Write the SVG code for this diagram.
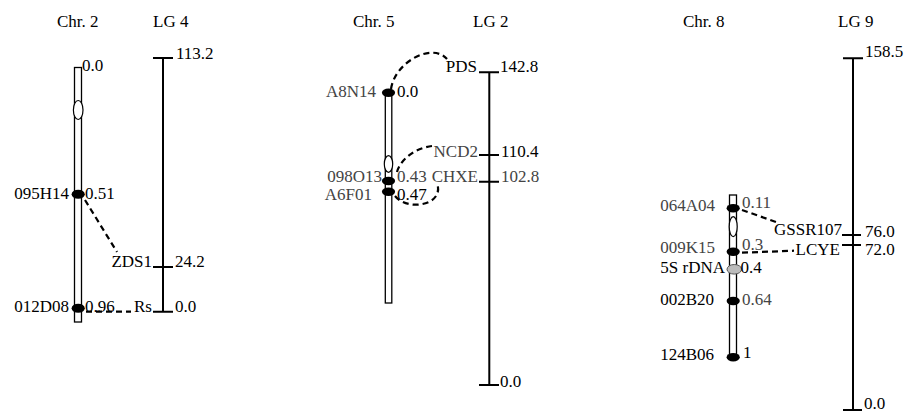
<svg xmlns="http://www.w3.org/2000/svg" width="906" height="414" viewBox="0 0 906 414">
<style>
text{font-family:"Liberation Serif","Times New Roman",serif;font-size:17px;fill:#000}
.g{fill:#444}
.e{text-anchor:end}
.chr{fill:#fff;stroke:#000;stroke-width:1.3}
.cen{fill:#fff;stroke:#000;stroke-width:1.2}
.dot{fill:#000}
.lg{stroke:#000;stroke-width:2;fill:none}
.dash{stroke:#000;stroke-width:2.2;stroke-dasharray:6,4;fill:none}
</style>
<rect width="906" height="414" fill="#fff"/>
<g id="headers">
<text x="57" y="27">Chr. 2</text>
<text x="153" y="27">LG 4</text>
<text x="353" y="27">Chr. 5</text>
<text x="473" y="27">LG 2</text>
<text x="683" y="27">Chr. 8</text>
<text x="838" y="27">LG 9</text>
</g>
<g id="chr2">
<rect class="chr" x="74.5" y="67.5" width="7" height="254.5"/>
<ellipse class="cen" cx="78.2" cy="110" rx="4.8" ry="9.5"/>
<text x="82" y="71">0.0</text>
<ellipse class="dot" cx="78.2" cy="194.3" rx="6.6" ry="4.5"/>
<text class="e" x="69" y="199">095H14</text>
<text x="85" y="199">0.51</text>
<ellipse class="dot" cx="78.2" cy="308.3" rx="6.6" ry="4.5"/>
<text class="e" x="69" y="312">012D08</text>
<text x="85" y="312">0.96</text>
</g>
<g id="lg4">
<path class="lg" d="M163,58V312M153,58H173M153,267H173M153,311.7H173"/>
<text x="176" y="59">113.2</text>
<text class="e" x="152" y="267">ZDS1</text>
<text x="175" y="267">24.2</text>
<text class="e" x="152" y="312">Rs</text>
<text x="175" y="312">0.0</text>
</g>
<g id="chr5">
<rect class="chr" x="385.3" y="93" width="6.5" height="210"/>
<ellipse class="cen" cx="388.5" cy="164" rx="4.2" ry="8.3"/>
<ellipse class="dot" cx="388.5" cy="92.7" rx="6.6" ry="4.2"/>
<text class="e g" x="376" y="97">A8N14</text>
<text x="397" y="97">0.0</text>
<ellipse class="dot" cx="388.5" cy="181" rx="6.6" ry="4.2"/>
<text class="e g" x="382" y="182">098O13</text>
<text class="g" x="397" y="182">0.43</text>
<ellipse class="dot" cx="388.5" cy="191.7" rx="6.6" ry="4.2"/>
<text class="e g" x="372" y="200">A6F01</text>
<text x="397" y="200">0.47</text>
</g>
<g id="lg2">
<path class="lg" d="M489.3,72V385M479,72.3H499M479,155H499M479,181.7H499M479,385H499"/>
<text class="e" x="477" y="72">PDS</text>
<text x="500" y="72">142.8</text>
<text class="e g" x="478" y="157">NCD2</text>
<text x="501" y="157">110.4</text>
<text class="e g" x="478" y="182">CHXE</text>
<text class="g" x="501" y="182">102.8</text>
<text x="500" y="387">0.0</text>
</g>
<g id="chr8">
<rect class="chr" x="729.5" y="195" width="7" height="162"/>
<ellipse class="cen" cx="733.2" cy="226.7" rx="4" ry="10"/>
<ellipse class="dot" cx="733.2" cy="208.3" rx="6.6" ry="4.2"/>
<text class="e g" x="715" y="211">064A04</text>
<text class="g" x="742" y="208">0.11</text>
<ellipse class="dot" cx="733.2" cy="251.7" rx="6.6" ry="4.2"/>
<text class="e g" x="715" y="253">009K15</text>
<text class="g" x="742" y="250">0.3</text>
<ellipse cx="734.3" cy="269.3" rx="7.3" ry="4.8" fill="#bbb" stroke="#555" stroke-width="1"/>
<text class="e" x="725" y="273">5S rDNA</text>
<text x="740.5" y="273">0.4</text>
<ellipse class="dot" cx="733.2" cy="301" rx="6.6" ry="4.2"/>
<text class="e" x="714" y="305">002B20</text>
<text class="g" x="742" y="305">0.64</text>
<ellipse class="dot" cx="733.2" cy="357.3" rx="6.6" ry="4.2"/>
<text class="e" x="714" y="360">124B06</text>
<text x="743" y="358">1</text>
</g>
<g id="lg9">
<path class="lg" d="M853,58V410M843,58.3H863M842,235H861M842,245H861M843,410H862"/>
<text x="865" y="57">158.5</text>
<text class="e" x="842" y="235">GSSR107</text>
<text x="865" y="237">76.0</text>
<text class="e" x="840" y="255">LCYE</text>
<text x="865" y="255">72.0</text>
<text x="864" y="409">0.0</text>
</g>
<g id="connectors">
<path class="dash" d="M85,200L117,252"/>
<path class="dash" d="M86,311.7H131"/>
<path class="dash" d="M391,89C395,62 432,42 447,59"/>
<path class="dash" d="M397,172C400,160 415,148 432,146"/>
<path class="dash" d="M395,196C408,212 445,205 437,183"/>
<path class="dash" d="M742,210L776,222"/>
<path class="dash" d="M742,252.7L794,250.7"/>
</g>
</svg>
